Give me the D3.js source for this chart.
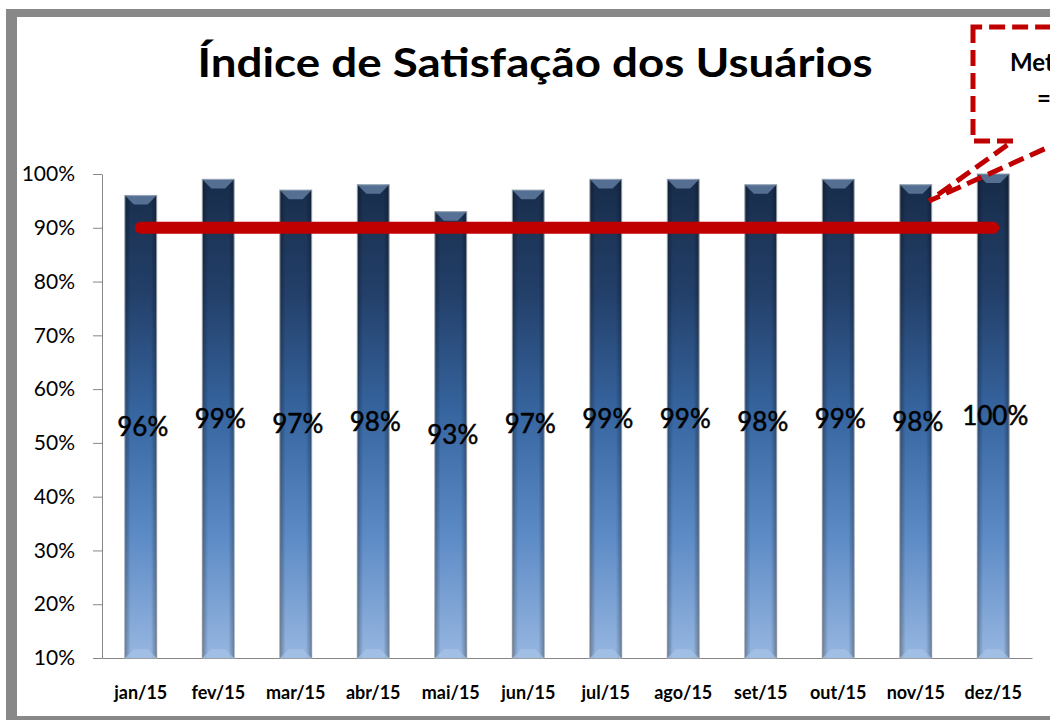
<!DOCTYPE html>
<html>
<head>
<meta charset="utf-8">
<script src="https://cdn.jsdelivr.net/npm/d3@7"></script>
<style>
  html, body { margin: 0; padding: 0; background: #fff; }
  svg { display: block; font-family: Lato, "Liberation Sans", sans-serif; }
</style>
</head>
<body>
<div id="chart"></div>
<script>
// chart data
const months = ["jan/15", "fev/15", "mar/15", "abr/15", "mai/15", "jun/15",
                "jul/15", "ago/15", "set/15", "out/15", "nov/15", "dez/15"];
const satisfaction = [0.96, 0.99, 0.97, 0.98, 0.93, 0.97, 0.99, 0.99, 0.98, 0.99, 0.98, 1.00];
const target = [0.90, 0.90, 0.90, 0.90, 0.90, 0.90, 0.90, 0.90, 0.90, 0.90, 0.90, 0.90];
const yTicks = [0.1, 0.2, 0.3, 0.4, 0.5, 0.6, 0.7, 0.8, 0.9, 1.0];
const title = "Índice de Satisfação dos Usuários";
const calloutLines = ["Meta", "= 90%"];

const width = 1050, height = 720;
const margin = { top: 174, right: 18, bottom: 62, left: 102 };

const svg = d3.select("#chart").append("svg")
  .attr("width", width)
  .attr("height", height);

const defs = svg.append("defs");

// vertical colour ramp shared by all bars
const yTop = margin.top, yBottom = height - margin.bottom;
const vGrad = defs.append("linearGradient")
  .attr("id", "barGrad")
  .attr("gradientUnits", "userSpaceOnUse")
  .attr("x1", 0).attr("x2", 0).attr("y1", yTop).attr("y2", yBottom);
[[0, "#172b48"], [0.25, "#23406a"], [0.5, "#3766a1"], [0.75, "#5d8bc6"], [1, "#96b6e0"]]
  .forEach(([o, c]) => vGrad.append("stop").attr("offset", o).attr("stop-color", c));

// darker edges so bars look rounded
const hGrad = defs.append("linearGradient")
  .attr("id", "edgeGrad")
  .attr("x1", 0).attr("x2", 1).attr("y1", 0).attr("y2", 0);
[[0, 0.3], [0.18, 0], [0.82, 0], [1, 0.3]]
  .forEach(([o, a]) => hGrad.append("stop").attr("offset", o)
    .attr("stop-color", "#000").attr("stop-opacity", a));

// frame
const frame = svg.append("g").attr("fill", "#888888");
frame.append("rect").attr("x", 6).attr("y", 9).attr("width", 11).attr("height", 711);
frame.append("rect").attr("x", 6).attr("y", 9).attr("width", 1044).attr("height", 8);
frame.append("rect").attr("x", 6).attr("y", 716).attr("width", 1044).attr("height", 4);

// title
svg.append("text")
  .attr("x", 535)
  .attr("y", 77)
  .attr("text-anchor", "middle")
  .attr("font-size", 40)
  .attr("font-weight", "bold")
  .attr("textLength", 675)
  .attr("lengthAdjust", "spacingAndGlyphs")
  .text(title);

// scales
const x = d3.scaleBand()
  .domain(months)
  .range([margin.left, width - margin.right])
  .paddingInner(0.59)
  .paddingOuter(0.295);

const y = d3.scaleLinear()
  .domain([0.1, 1.0])
  .range([yBottom, yTop]);

// y axis
const yAxis = svg.append("g")
  .attr("transform", `translate(${margin.left},0)`)
  .call(d3.axisLeft(y).tickValues(yTicks).tickFormat(d3.format(".0%"))
    .tickSizeOuter(0).tickSizeInner(9).tickPadding(18));
yAxis.select(".domain").attr("stroke", "#868686");
yAxis.selectAll(".tick line").attr("stroke", "#868686");
yAxis.selectAll(".tick text")
  .attr("font-size", 21)
  .attr("font-family", "Lato, sans-serif")
  .attr("fill", "#000");

// x axis
const xAxis = svg.append("g")
  .attr("transform", `translate(0,${yBottom})`)
  .call(d3.axisBottom(x).tickSize(0).tickPadding(28));
xAxis.select(".domain").attr("stroke", "#868686");
xAxis.selectAll(".tick text")
  .attr("font-size", 18)
  .attr("font-weight", "bold")
  .attr("font-family", "Lato, sans-serif")
  .attr("fill", "#000");

// bars
const bars = svg.append("g").selectAll("g")
  .data(months.map((m, i) => ({ month: m, value: satisfaction[i] })))
  .join("g");

bars.append("rect")
  .attr("x", d => x(d.month))
  .attr("y", d => y(d.value))
  .attr("width", x.bandwidth())
  .attr("height", d => yBottom - y(d.value))
  .attr("fill", "url(#barGrad)")
  .attr("stroke", "#a9b3bf")
  .attr("stroke-width", 1.2);

bars.append("rect")
  .attr("x", d => x(d.month))
  .attr("y", d => y(d.value))
  .attr("width", x.bandwidth())
  .attr("height", d => yBottom - y(d.value))
  .attr("fill", "url(#edgeGrad)");

// top bevel
bars.append("path")
  .attr("d", d => {
    const x0 = x(d.month), x1 = x0 + x.bandwidth(), t = y(d.value);
    return `M${x0},${t}L${x1},${t}L${x1 - 9},${t + 9}L${x0 + 9},${t + 9}Z`;
  })
  .attr("fill", "#6f8bb0")
  .attr("opacity", 0.7);

// bottom bevel
bars.append("path")
  .attr("d", d => {
    const x0 = x(d.month), x1 = x0 + x.bandwidth(), b = yBottom;
    return `M${x0},${b}L${x1},${b}L${x1 - 9},${b - 9}L${x0 + 9},${b - 9}Z`;
  })
  .attr("fill", "#a7c2e6")
  .attr("opacity", 0.7);

// data labels in the middle of each bar
bars.append("text")
  .attr("x", d => x(d.month) + x.bandwidth() / 2 + 2)
  .attr("y", d => (y(d.value) + yBottom) / 2)
  .attr("dy", "0.36em")
  .attr("text-anchor", "middle")
  .attr("font-size", 26)
  .attr("fill", "#000")
  .attr("stroke", "#000")
  .attr("stroke-width", 0.5)
  .text(d => d3.format(".0%")(d.value));

// target line
const line = d3.line()
  .x((d, i) => x(months[i]) + x.bandwidth() / 2)
  .y(d => y(d));

svg.append("path")
  .datum(target)
  .attr("d", line)
  .attr("fill", "none")
  .attr("stroke", "#c00000")
  .attr("stroke-width", 12)
  .attr("stroke-linecap", "round");

// callout box pointing at the bars
const callout = svg.append("g");
callout.append("path")
  .attr("d", "M973,27L973,141L1013,141L929,201L1062,141L1120,141L1120,27Z")
  .attr("fill", "none")
  .attr("stroke", "#c00000")
  .attr("stroke-width", 5)
  .attr("stroke-dasharray", "16,7")
  .attr("stroke-linejoin", "miter");

callout.selectAll("text")
  .data(calloutLines)
  .join("text")
  .attr("x", (d, i) => i === 0 ? 1010 : 1037)
  .attr("y", (d, i) => 71 + i * 36)
  .attr("font-size", 24)
  .attr("font-weight", "bold")
  .attr("fill", "#000")
  .text(d => d);
</script>
</body>
</html>
